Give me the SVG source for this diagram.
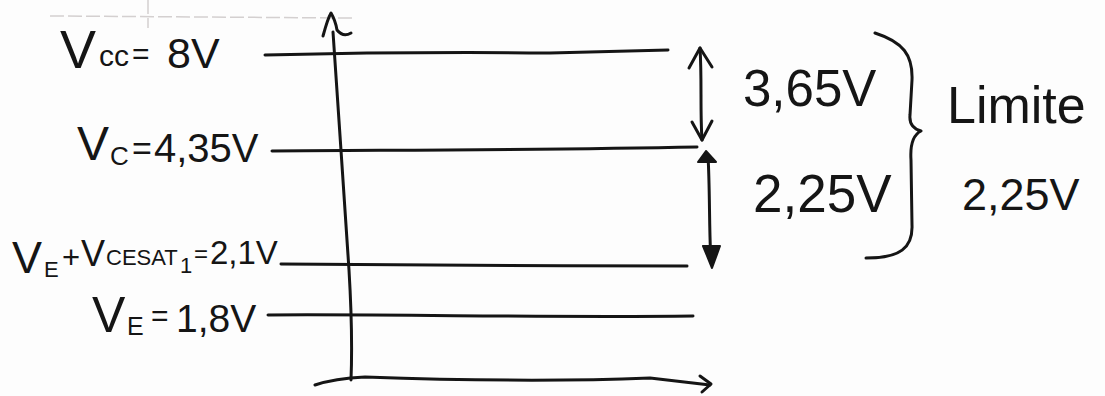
<svg xmlns="http://www.w3.org/2000/svg" width="1105" height="396" viewBox="0 0 1105 396">
<style>
.ink{fill:none;stroke:#151515;stroke-width:3;stroke-linecap:round;stroke-linejoin:round}
.fill{fill:#151515;stroke:#151515;stroke-width:2;stroke-linejoin:round}
.faint{fill:none;stroke:#d4d0d0;stroke-width:1.5;stroke-dasharray:14 4}
text{font-family:"Liberation Sans","DejaVu Sans",sans-serif;fill:#151515}
</style>
<rect width="1105" height="396" fill="#fdfdfd"/>
<g id="paper-marks">
<path class="faint" d="M50,16 L352,18"/>
<path class="faint" d="M148,0 L148,28"/>
</g>
<g id="connectors">
<path id="y-axis" class="ink" d="M333,32 C338,100 344,200 349,270 C352,320 352,355 351,380"/>
<path class="ink" d="M323,36 C326,25 328,18 331,13 C334,18 336,24 337,30 C341,35 346,36 351,33"/>
<path id="x-axis" class="ink" d="M315,385 C330,380 345,378 365,377 C450,380 550,382 650,378 L710,385"/>
<path class="ink" d="M700,376 L711,384 L702,392"/>
<path id="line-vcc" class="ink" d="M265,55 C350,53 450,52 550,53 L668,50"/>
<path id="line-vc" class="ink" d="M272,151 C400,150 550,150 697,147"/>
<path id="line-vcesat" class="ink" d="M281,264 C400,265 550,266 687,266"/>
<path id="line-ve" class="ink" d="M268,315 C400,314 550,318 693,316"/>
<path id="dim-365" class="ink" d="M700,48 C702,80 700,110 702,140"/>
<path class="ink" d="M689,68 L700,48 L712,67"/>
<path class="ink" d="M692,122 L702,140 L712,121"/>
<path id="dim-225" class="ink" d="M708,156 C710,190 709,230 711,262"/>
<path class="fill" d="M706,151 L698,162 L716,162 Z"/>
<path class="fill" d="M712,268 L703,246 L720,246 Z"/>
<path id="brace" class="ink" d="M875,33 C903,42 913,55 912,80 L910,115 C909,125 914,129 921,131 C913,135 910,145 911,160 L912,225 C913,248 900,258 866,258"/>
</g>
<g id="label-vcc">
<text x="60" y="68" font-size="54">V</text>
<text x="99" y="66" font-size="30">cc</text>
<text x="132" y="64" font-size="30">=</text>
<text x="167" y="68" font-size="43">8V</text>
</g>
<g id="label-vc">
<text x="77" y="160" font-size="48">V</text>
<text x="110" y="165" font-size="26">C</text>
<text x="132" y="160" font-size="34">=</text>
<text x="154" y="162" font-size="40">4,35V</text>
</g>
<g id="label-vcesat">
<text x="12" y="273" font-size="45">V</text>
<text x="44" y="277" font-size="22">E</text>
<text x="62" y="268" font-size="31">+</text>
<text x="81" y="266" font-size="36">V</text>
<text x="106" y="265" font-size="22">CESAT</text>
<text x="180" y="273" font-size="22">1</text>
<text x="194" y="262" font-size="24">=</text>
<text x="210" y="264" font-size="33">2,1V</text>
</g>
<g id="label-ve">
<text x="92" y="332" font-size="50">V</text>
<text x="127" y="335" font-size="25">E</text>
<text x="151" y="326" font-size="30">=</text>
<text x="176" y="332" font-size="39">1,8V</text>
</g>
<g id="label-365"><text x="743" y="106" font-size="51">3,65V</text></g>
<g id="label-225"><text x="753" y="212" font-size="53">2,25V</text></g>
<g id="label-limite"><text x="947" y="123" font-size="52">Limite</text></g>
<g id="label-limite-val"><text x="962" y="210" font-size="45">2,25V</text></g>
</svg>
